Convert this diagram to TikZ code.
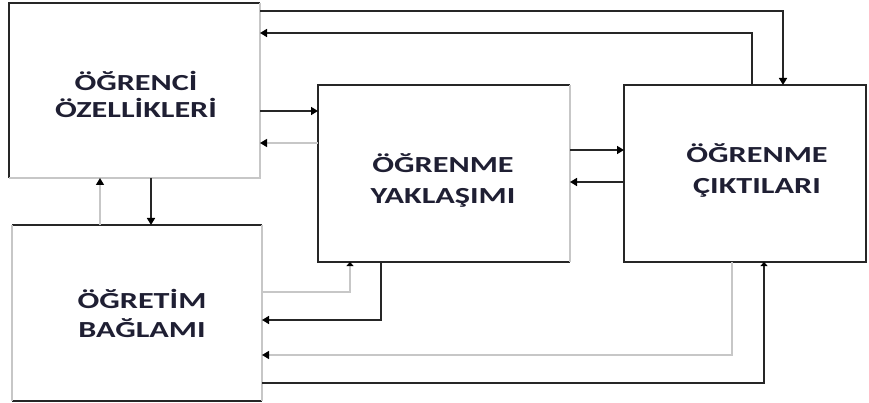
\documentclass[tikz,border=0pt]{standalone}
\usepackage{fontspec}
\usepackage{graphicx}
\setmainfont{Carlito}
\usetikzlibrary{arrows.meta}
\definecolor{txtc}{rgb}{0.12,0.12,0.2}
\definecolor{gline}{rgb}{0.78,0.78,0.78}
\newcommand\wtxt[1]{\scalebox{1.4}[1]{#1}}
\begin{document}
\begin{tikzpicture}[x=1pt,y=-1pt,
  box/.style={draw=none,inner sep=0pt,outer sep=0pt},
  blk/.style={draw=black!85,line width=1.6pt},
  gry/.style={draw=gline,line width=1.4pt},
  tipb/.style={-{Triangle[length=7pt,width=8pt,color=black]}},
  tips/.style={-{Triangle[length=4pt,width=7pt,color=black]}},
  lbl/.style={anchor=base,inner sep=0pt,text=txtc,font=\bfseries\fontsize{23}{27}\selectfont}]
\useasboundingbox (0,0) rectangle (869,403);
% boxes
\node[box,minimum width=251pt,minimum height=175pt] (b1) at (134.5,90.5) {};
\node[box,minimum width=252pt,minimum height=177pt] (b2) at (444,173.5) {};
\node[box,minimum width=242pt,minimum height=177pt] (b3) at (745,173.5) {};
\node[box,minimum width=250pt,minimum height=176pt] (b4) at (137,313) {};
\draw[blk] (b1.south west) -- (b1.north west) -- (b1.north east);
\draw[gry] (b1.north east) -- (b1.south east) -- (b1.south west);
\draw[blk] (b2.north east) -- (b2.north west) -- (b2.south west) -- (b2.south east);
\draw[gry] (b2.north east) -- (b2.south east);
\draw[blk] (b3.north west) rectangle (b3.south east);
\draw[blk] (b4.north west) -- (b4.north east);
\draw[blk] (b4.south west) -- (b4.south east);
\draw[gry] (b4.north west) -- (b4.south west);
\draw[gry] (b4.north east) -- (b4.south east);
% labels
\node[lbl] (t1a) at (136,90.5) {\wtxt{ÖĞRENCİ}};
\node[lbl] (t1b) at (136,118) {\wtxt{ÖZELLİKLERİ}};
\node[lbl] (t2a) at (443,173) {\wtxt{ÖĞRENME}};
\node[lbl] (t2b) at (443,204) {\wtxt{YAKLAŞIMI}};
\node[lbl] (t3a) at (757,163) {\wtxt{ÖĞRENME}};
\node[lbl] (t3b) at (757,194) {\wtxt{ÇIKTILARI}};
\node[lbl] (t4a) at (142,308) {\wtxt{ÖĞRETİM}};
\node[lbl] (t4b) at (142,337) {\wtxt{BAĞLAMI}};
% connectors
\draw[blk,tipb] (b1.east |- 0,11) -| (b3.north -| 783,0);
\draw[blk,tipb] (b3.north -| 752,0) |- (b1.east |- 0,33);
\draw[blk,tipb] (b1.east |- 0,111) -- (b2.west |- 0,111);
\draw[gry,tipb] (b2.west |- 0,143) -- (b1.east |- 0,143);
\draw[blk,tipb] (b2.east |- 0,150) -- (b3.west |- 0,150);
\draw[blk,tipb] (b3.west |- 0,182) -- (b2.east |- 0,182);
\draw[gry,tipb] (b4.north -| 100,0) -- (b1.south -| 100,0);
\draw[blk,tipb] (b1.south -| 151,0) -- (b4.north -| 151,0);
\draw[gry,tips] (b4.east |- 0,292) -| (b2.south -| 350,0);
\draw[blk,tipb] (b2.south -| 381,0) |- (b4.east |- 0,320);
\draw[gry,tipb] (b3.south -| 732,0) |- (b4.east |- 0,355);
\draw[blk,tips] (b4.east |- 0,383) -| (b3.south -| 764,0);
\end{tikzpicture}
\end{document}
